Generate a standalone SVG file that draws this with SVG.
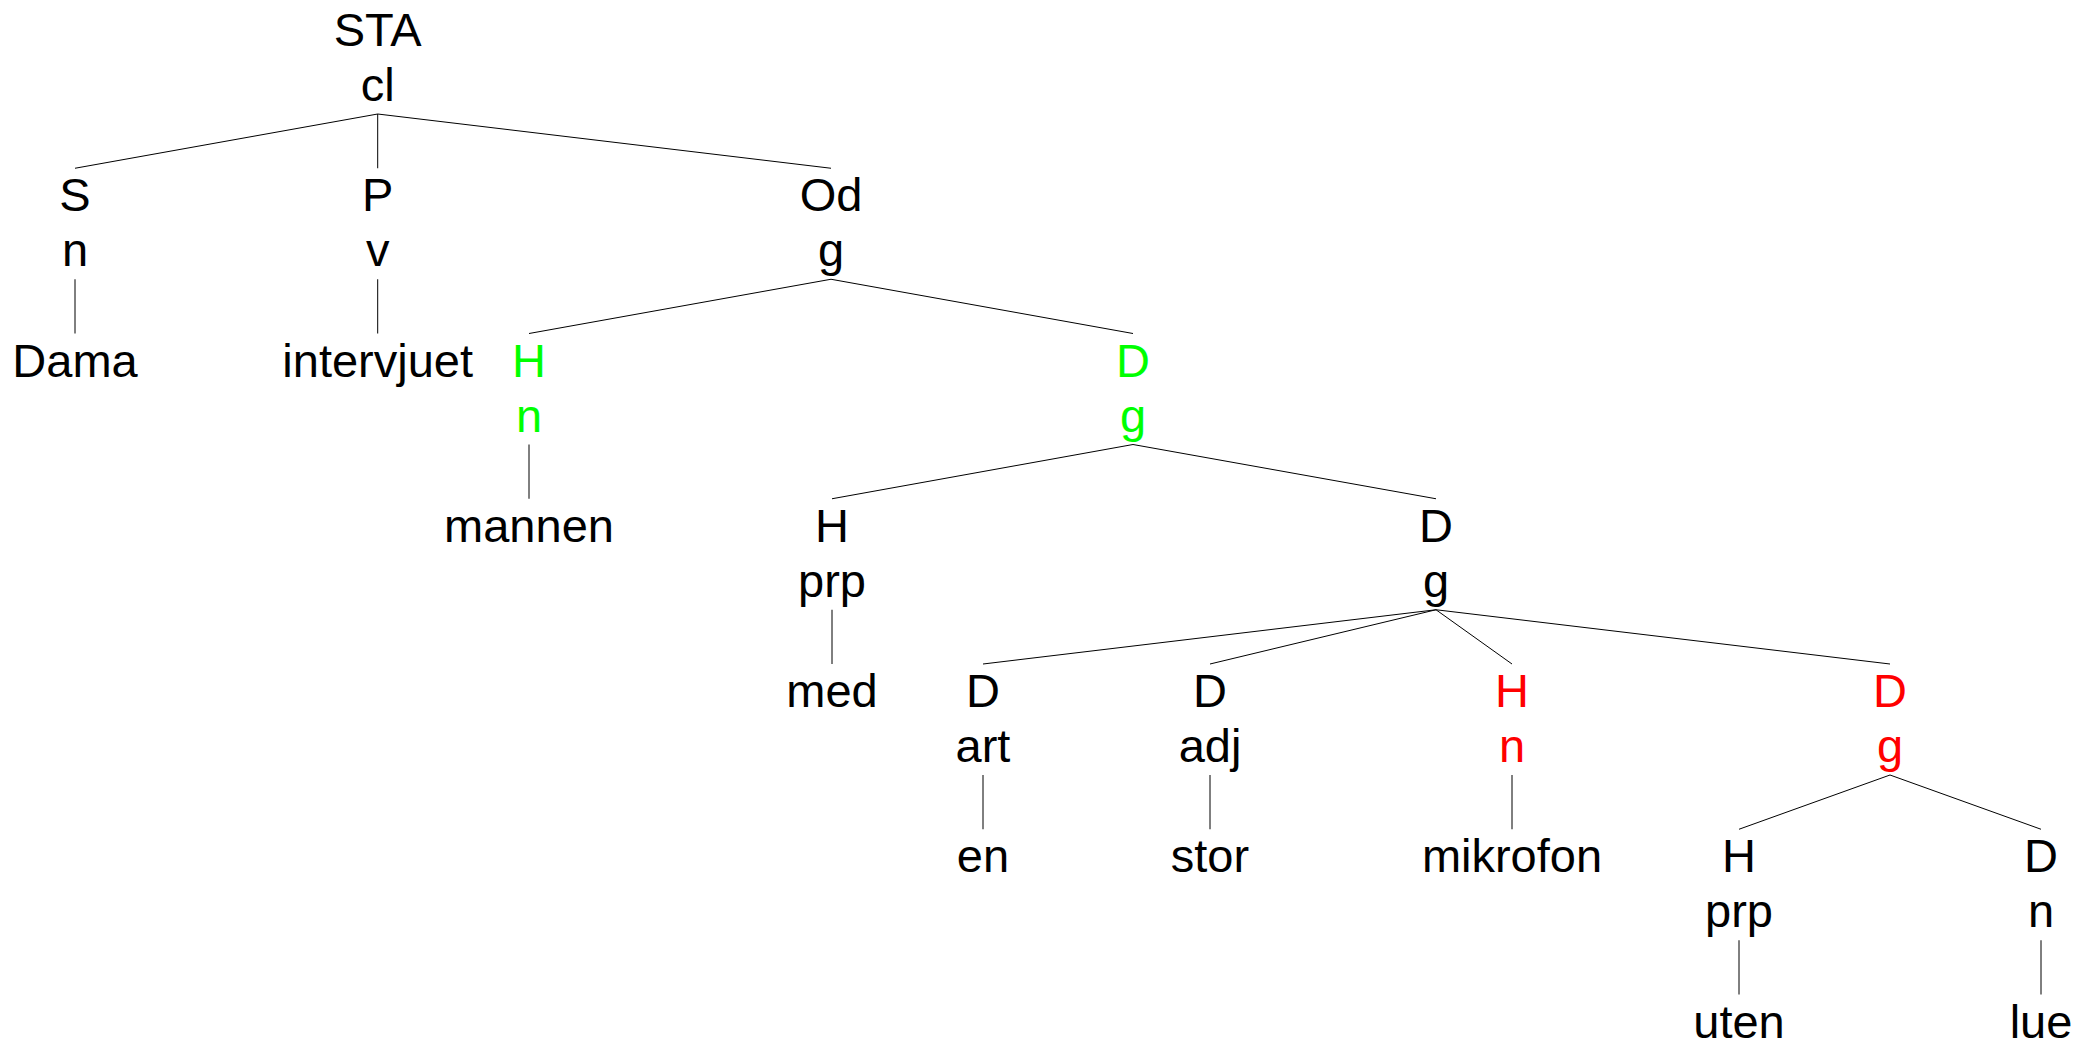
<svg xmlns="http://www.w3.org/2000/svg" width="2096" height="1047" viewBox="0 0 2096 1047">
<style>
text{font-family:"Liberation Sans",Arial,sans-serif;font-size:47px;text-anchor:middle;fill:#000}
.g text{fill:#00ff00}
.r text{fill:#ff0000}
#edges line{stroke:#000;stroke-width:1}
</style>
<rect width="2096" height="1047" fill="#fff"/>
<g id="edges">
<line x1="377.7" y1="114" x2="75" y2="168.25"/>
<line x1="377.7" y1="114" x2="377.7" y2="168.25"/>
<line x1="377.7" y1="114" x2="831" y2="168.25"/>
<line x1="75" y1="279.25" x2="75" y2="333.5"/>
<line x1="377.7" y1="279.25" x2="377.7" y2="333.5"/>
<line x1="831" y1="279.25" x2="529" y2="333.5"/>
<line x1="831" y1="279.25" x2="1133" y2="333.5"/>
<line x1="529" y1="444.5" x2="529" y2="498.75"/>
<line x1="1133" y1="444.5" x2="832" y2="498.75"/>
<line x1="1133" y1="444.5" x2="1436" y2="498.75"/>
<line x1="832" y1="609.75" x2="832" y2="664"/>
<line x1="1436" y1="609.75" x2="983" y2="664"/>
<line x1="1436" y1="609.75" x2="1210" y2="664"/>
<line x1="1436" y1="609.75" x2="1512" y2="664"/>
<line x1="1436" y1="609.75" x2="1890" y2="664"/>
<line x1="983" y1="775" x2="983" y2="829.25"/>
<line x1="1210" y1="775" x2="1210" y2="829.25"/>
<line x1="1512" y1="775" x2="1512" y2="829.25"/>
<line x1="1890" y1="775" x2="1739" y2="829.25"/>
<line x1="1890" y1="775" x2="2041" y2="829.25"/>
<line x1="1739" y1="940.25" x2="1739" y2="994.5"/>
<line x1="2041" y1="940.25" x2="2041" y2="994.5"/>
</g>
<g id="n-sta"><text x="377.7" y="46">STA</text><text x="377.7" y="101">cl</text></g>
<g id="n-s"><text x="75" y="211.25">S</text><text x="75" y="266.25">n</text></g>
<g id="n-p"><text x="377.7" y="211.25">P</text><text x="377.7" y="266.25">v</text></g>
<g id="n-od"><text x="831" y="211.25">Od</text><text x="831" y="266.25">g</text></g>
<g id="w-dama"><text x="75" y="376.5">Dama</text></g>
<g id="w-intervjuet"><text x="377.7" y="376.5">intervjuet</text></g>
<g id="n-h1" class="g"><text x="529" y="376.5">H</text><text x="529" y="431.5">n</text></g>
<g id="n-d1" class="g"><text x="1133" y="376.5">D</text><text x="1133" y="431.5">g</text></g>
<g id="w-mannen"><text x="529" y="541.75">mannen</text></g>
<g id="n-h2"><text x="832" y="541.75">H</text><text x="832" y="596.75">prp</text></g>
<g id="n-d2"><text x="1436" y="541.75">D</text><text x="1436" y="596.75">g</text></g>
<g id="w-med"><text x="832" y="707">med</text></g>
<g id="n-d-art"><text x="983" y="707">D</text><text x="983" y="762">art</text></g>
<g id="n-d-adj"><text x="1210" y="707">D</text><text x="1210" y="762">adj</text></g>
<g id="n-h3" class="r"><text x="1512" y="707">H</text><text x="1512" y="762">n</text></g>
<g id="n-d3" class="r"><text x="1890" y="707">D</text><text x="1890" y="762">g</text></g>
<g id="w-en"><text x="983" y="872.25">en</text></g>
<g id="w-stor"><text x="1210" y="872.25">stor</text></g>
<g id="w-mikrofon"><text x="1512" y="872.25">mikrofon</text></g>
<g id="n-h4"><text x="1739" y="872.25">H</text><text x="1739" y="927.25">prp</text></g>
<g id="n-d4"><text x="2041" y="872.25">D</text><text x="2041" y="927.25">n</text></g>
<g id="w-uten"><text x="1739" y="1037.5">uten</text></g>
<g id="w-lue"><text x="2041" y="1037.5">lue</text></g>
</svg>
